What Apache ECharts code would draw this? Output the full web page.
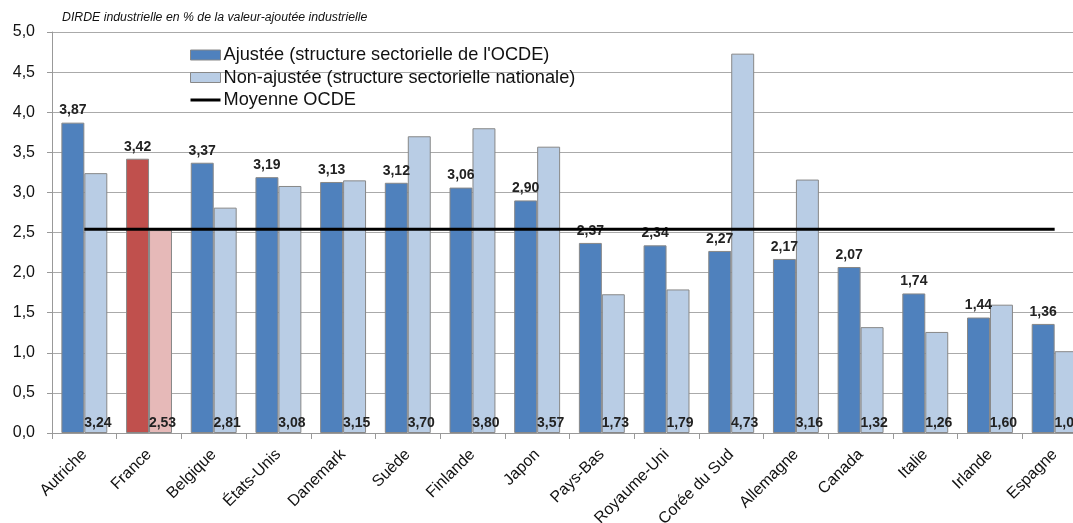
<!DOCTYPE html>
<html>
<head>
<meta charset="utf-8">
<script src="https://cdn.jsdelivr.net/npm/echarts@6/dist/echarts.min.js"></script>
<style>
  html, body { margin: 0; padding: 0; background: #fff; }
  #chart { width: 1073px; height: 523px; }
</style>
</head>
<body>
<div id="chart"></div>
<script>
// Countries, in chart order
const countries = [
  "Autriche", "France", "Belgique", "États-Unis", "Danemark", "Suède",
  "Finlande", "Japon", "Pays-Bas", "Royaume-Uni", "Corée du Sud",
  "Allemagne", "Canada", "Italie", "Irlande", "Espagne"
];

// Adjusted (OECD sector structure)
const adjusted = [3.87, 3.42, 3.37, 3.19, 3.13, 3.12, 3.06, 2.90, 2.37, 2.34, 2.27, 2.17, 2.07, 1.74, 1.44, 1.36];

// Non-adjusted (national sector structure)
const nonAdjusted = [3.24, 2.53, 2.81, 3.08, 3.15, 3.70, 3.80, 3.57, 1.73, 1.79, 4.73, 3.16, 1.32, 1.26, 1.60, 1.02];

// OECD average
const oecdAverage = [2.54, 2.54, 2.54, 2.54, 2.54, 2.54, 2.54, 2.54, 2.54, 2.54, 2.54, 2.54, 2.54, 2.54, 2.54, 2.54];

const yTicks = { min: 0, max: 5, interval: 0.5 };

const FONT = "Liberation Sans, Arial, sans-serif";
const fmt = (v) => v.toFixed(2).replace(".", ",");

// France is highlighted in red
const HIGHLIGHT = "France";

const chart = echarts.init(document.getElementById("chart"), null, { renderer: "canvas" });

const adjustedData = adjusted.map((v, i) => countries[i] === HIGHLIGHT
  ? { value: v, itemStyle: { color: "#C0504D" } }
  : v);
const nonAdjustedData = nonAdjusted.map((v, i) => countries[i] === HIGHLIGHT
  ? { value: v, itemStyle: { color: "#E6B9B8" } }
  : v);

const barLabel = {
  show: true,
  fontSize: 14,
  fontWeight: "bold",
  color: "#222",
  fontFamily: FONT,
  formatter: (p) => fmt(p.value)
};

chart.setOption({
  animation: false,
  textStyle: { fontFamily: FONT },
  title: {
    text: "DIRDE industrielle en % de la valeur-ajoutée industrielle",
    left: 62,
    top: 12,
    padding: 0,
    textStyle: { fontSize: 12.3, fontStyle: "italic", fontWeight: "normal", color: "#111", fontFamily: FONT }
  },
  legend: {
    orient: "vertical",
    left: 185,
    top: 41,
    itemWidth: 30,
    itemHeight: 10,
    itemGap: 4.5,
    textStyle: { fontSize: 18.2, color: "#111", fontFamily: FONT, padding: [0, 0, 0, -2] },
    data: [
      { name: "Ajustée (structure sectorielle de l'OCDE)", icon: "rect", itemStyle: { color: "#4F81BD", borderColor: "#888", borderWidth: 1 } },
      { name: "Non-ajustée (structure sectorielle nationale)", icon: "rect", itemStyle: { color: "#B9CDE5", borderColor: "#888", borderWidth: 1 } },
      { name: "Moyenne OCDE", icon: "path://M0,0 M0,3.5 L30,3.5 L30,6.5 L0,6.5 Z M30,10", itemStyle: { color: "#000", borderWidth: 0 } }
    ]
  },
  grid: {
    left: 52,
    top: 32,
    width: 1035,
    height: 401,
    containLabel: false,
    outerBoundsMode: "none"
  },
  xAxis: {
    type: "category",
    data: countries,
    axisLine: { lineStyle: { color: "#999", width: 1 } },
    axisTick: { show: true, length: 6, lineStyle: { color: "#999" } },
    axisLabel: {
      rotate: 45,
      interval: 0,
      fontSize: 16,
      color: "#111",
      margin: 19,
      fontFamily: FONT
    }
  },
  yAxis: {
    type: "value",
    min: yTicks.min,
    max: yTicks.max,
    interval: yTicks.interval,
    axisLine: { show: true, lineStyle: { color: "#999", width: 1 } },
    axisTick: { show: true, length: 5, lineStyle: { color: "#999" } },
    axisLabel: {
      fontSize: 16,
      color: "#111",
      margin: 17,
      fontFamily: FONT,
      formatter: (v) => v.toFixed(1).replace(".", ",")
    },
    splitLine: { show: true, lineStyle: { color: "#aaa", width: 1 } }
  },
  series: [
    {
      name: "Ajustée (structure sectorielle de l'OCDE)",
      type: "bar",
      data: adjustedData,
      barGap: "0%",
      barCategoryGap: "29%",
      itemStyle: { color: "#4F81BD", borderColor: "#888", borderWidth: 1 },
      label: Object.assign({ position: "top", distance: 5 }, barLabel),
      z: 2
    },
    {
      name: "Non-ajustée (structure sectorielle nationale)",
      type: "bar",
      data: nonAdjustedData,
      itemStyle: { color: "#B9CDE5", borderColor: "#888", borderWidth: 1 },
      label: Object.assign({ position: "insideBottom", distance: 3, offset: [2, 0] }, barLabel),
      z: 2
    },
    {
      name: "Moyenne OCDE",
      type: "line",
      data: oecdAverage,
      symbol: "none",
      lineStyle: { color: "#000", width: 3 },
      itemStyle: { color: "#000" },
      z: 5
    }
  ]
});
</script>
</body>
</html>
